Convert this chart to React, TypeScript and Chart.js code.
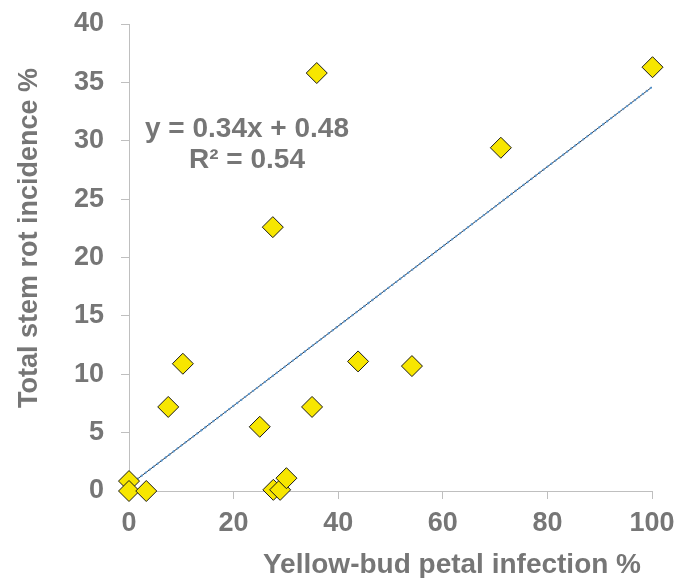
import React, { useEffect, useRef } from "react";
import { Chart, registerables } from "chart.js";

Chart.register(...registerables);

// Data
const infectionX = [0, 0, 3.3, 7.5, 10.3, 25.0, 27.6, 28.9, 30.1, 27.5, 35.9, 35.0, 43.8, 54.1, 71.1, 100.1];
const stemRotY = [0.85, 0, 0, 7.2, 10.9, 5.5, 0.1, 0.1, 1.1, 22.6, 35.8, 7.2, 11.1, 10.7, 29.4, 36.3];
const trendX = [0, 100];
const trendY = [0.48, 34.6];
const xTickValues = [0, 20, 40, 60, 80, 100];
const yTickValues = [0, 5, 10, 15, 20, 25, 30, 35, 40];
const equationLine1 = "y = 0.34x + 0.48";
const equationLine2 = "R² = 0.54";
const xAxisTitle = "Yellow-bud petal infection %";
const yAxisTitle = "Total stem rot incidence %";

const TEXT_COLOR = "#767676";
const AXIS_COLOR = "#BFBFBF";
const FONT_FAMILY = "'Liberation Sans', Arial, sans-serif";

const textPlugin = {
  id: "annotText",
  afterDraw(chart: any) {
    const ctx = chart.ctx;
    ctx.save();
    ctx.fillStyle = TEXT_COLOR;
    ctx.textAlign = "center";
    ctx.textBaseline = "alphabetic";
    ctx.font = `bold 28px ${FONT_FAMILY}`;
    ctx.fillText(equationLine1, 247, 137);
    ctx.fillText(equationLine2, 247, 168);
    ctx.fillText(xAxisTitle, 452, 573);
    ctx.font = `bold 27px ${FONT_FAMILY}`;
    ctx.translate(37, 238);
    ctx.rotate(-Math.PI / 2);
    ctx.fillText(yAxisTitle, 0, 0);
    ctx.restore();
  },
};

function zeroPadding(scale: any) {
  scale.paddingTop = 0;
  scale.paddingBottom = 0;
  scale.paddingLeft = 0;
  scale.paddingRight = 0;
}

export default function App() {
  const canvasRef = useRef<HTMLCanvasElement | null>(null);

  useEffect(() => {
    if (!canvasRef.current) return;
    const points = infectionX.map((x, i) => ({ x, y: stemRotY[i] }));
    const trend = trendX.map((x, i) => ({ x, y: trendY[i] }));
    const tickFont = { family: FONT_FAMILY, size: 27, weight: "bold" as const };

    const chart = new Chart(canvasRef.current, {
      type: "scatter",
      data: {
        datasets: [
          {
            label: "Data",
            data: points,
            pointStyle: "rectRot",
            pointRadius: 10.5,
            pointBackgroundColor: "#F7E600",
            pointBorderColor: "#1A1A1A",
            pointBorderWidth: 1,
            showLine: false,
            clip: false,
            order: 0,
          } as any,
          {
            label: "Trend dots",
            data: trend,
            showLine: true,
            pointRadius: 0,
            borderColor: "#5B9BD5",
            borderWidth: 2,
            borderDash: [2, 3],
            order: 1,
          } as any,
          {
            label: "Trend",
            data: trend,
            showLine: true,
            pointRadius: 0,
            borderColor: "#2E3A4A",
            borderWidth: 1,
            order: 2,
          } as any,
        ],
      },
      options: {
        animation: false,
        responsive: true,
        maintainAspectRatio: false,
        layout: { padding: { left: 0, right: 24, top: 24, bottom: 0 } },
        plugins: {
          legend: { display: false },
          tooltip: { enabled: false },
        },
        scales: {
          x: {
            type: "linear",
            min: 0,
            max: 100,
            afterBuildTicks: (scale: any) => {
              scale.ticks = xTickValues.map((v) => ({ value: v }));
            },
            afterFit: (scale: any) => {
              scale.height = 87;
              zeroPadding(scale);
            },
            ticks: {
              font: tickFont,
              color: TEXT_COLOR,
              padding: 8,
              maxRotation: 0,
            },
            grid: {
              display: true,
              drawOnChartArea: false,
              drawTicks: true,
              tickLength: 8,
              color: AXIS_COLOR,
            },
            border: { display: true, color: AXIS_COLOR, width: 1 },
          },
          y: {
            type: "linear",
            min: 0,
            max: 40,
            afterBuildTicks: (scale: any) => {
              scale.ticks = yTickValues.map((v) => ({ value: v }));
            },
            afterFit: (scale: any) => {
              scale.width = 129;
              zeroPadding(scale);
            },
            ticks: {
              font: tickFont,
              color: TEXT_COLOR,
              padding: 17,
            },
            grid: {
              display: true,
              drawOnChartArea: false,
              drawTicks: true,
              tickLength: 8,
              color: AXIS_COLOR,
            },
            border: { display: true, color: AXIS_COLOR, width: 1 },
          },
        },
      },
      plugins: [textPlugin],
    });
    return () => chart.destroy();
  }, []);

  return (
    <div style={{ position: "absolute", left: 0, top: 0, width: 676, height: 578, background: "#FFFFFF" }}>
      <canvas ref={canvasRef} />
    </div>
  );
}
